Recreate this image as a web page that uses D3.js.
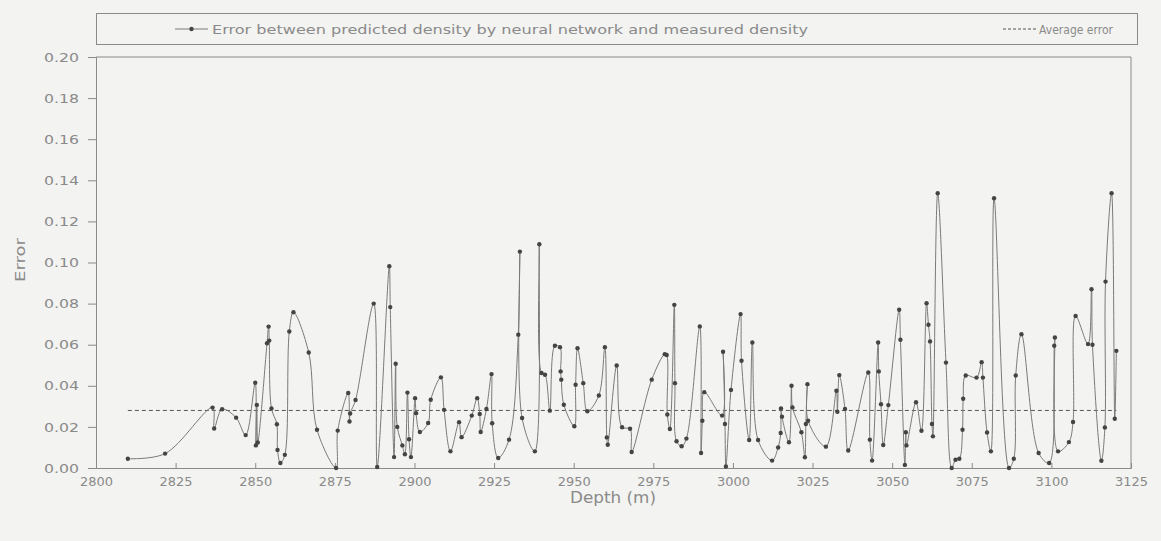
<!DOCTYPE html>
<html>
<head>
<meta charset="utf-8">
<script src="https://cdn.jsdelivr.net/npm/d3@7"></script>
<style>
  html, body { margin: 0; padding: 0; background: #f3f3f1; }
  svg { display: block; }
  text { font-family: "DejaVu Sans", "Liberation Sans", sans-serif; fill: #8a8a8a; }
</style>
</head>
<body>
<div id="main-vis"></div>
<script>
// depth (m) of each sample
const depth = [
  2810.0, 2821.7, 2836.6, 2837.1, 2839.6, 2844.0, 2847.0, 2850.0, 2850.2, 2850.5,
  2850.8, 2853.7, 2854.2, 2854.4, 2855.1, 2856.8, 2857.0, 2857.9, 2859.3, 2860.7,
  2862.0, 2866.8, 2869.4, 2875.4, 2875.9, 2879.2, 2879.6, 2879.8, 2881.5, 2887.2,
  2888.3, 2892.1, 2892.4, 2893.6, 2894.1, 2894.6, 2896.2, 2897.0, 2897.8, 2898.3,
  2898.9, 2900.2, 2900.5, 2901.7, 2904.3, 2905.1, 2908.3, 2909.3, 2911.3, 2914.0,
  2914.8, 2918.0, 2919.7, 2920.5, 2920.8, 2922.6, 2924.2, 2924.4, 2926.3, 2929.7,
  2932.6, 2933.1, 2933.8, 2937.8, 2939.2, 2939.9, 2941.0, 2942.5, 2944.1, 2945.7,
  2945.9, 2946.1, 2946.9, 2950.2, 2950.6, 2951.2, 2953.0, 2954.3, 2957.9, 2959.8,
  2960.4, 2960.7, 2963.5, 2965.2, 2967.7, 2968.2, 2974.5, 2978.6, 2979.2, 2979.4,
  2980.2, 2981.6, 2981.8, 2982.3, 2983.9, 2985.4, 2989.6, 2990.0, 2990.4, 2991.0,
  2996.6, 2996.9, 2997.5, 2997.8, 2999.4, 3002.4, 3002.7, 3005.1, 3006.1, 3007.9,
  3012.3, 3014.2, 3015.0, 3015.1, 3015.4, 3017.6, 3018.4, 3018.7, 3021.5, 3022.6,
  3022.9, 3023.4, 3023.6, 3029.2, 3032.5, 3032.8, 3033.4, 3035.2, 3036.2, 3042.5,
  3043.0, 3043.7, 3045.6, 3045.8, 3046.5, 3047.2, 3048.8, 3052.2, 3052.6, 3054.0,
  3054.3, 3054.5, 3057.5, 3059.2, 3060.8, 3061.4, 3061.9, 3062.5, 3062.8, 3064.3,
  3066.9, 3068.7, 3069.9, 3071.1, 3072.1, 3072.3, 3073.1, 3076.5, 3078.1, 3078.5,
  3079.8, 3081.0, 3082.0, 3086.7, 3088.2, 3088.8, 3090.6, 3096.0, 3099.3, 3100.9,
  3101.1, 3102.1, 3105.5, 3106.8, 3107.6, 3111.5, 3112.6, 3112.9, 3115.7, 3116.8,
  3117.0, 3118.9, 3119.9, 3120.4
]

// error between predicted and measured density
const errorVals = [
  0.0045, 0.0070, 0.0294, 0.0192, 0.0286, 0.0245, 0.0160, 0.0415, 0.0110, 0.0307,
  0.0124, 0.0607, 0.0688, 0.0620, 0.0290, 0.0213, 0.0088, 0.0024, 0.0064, 0.0664,
  0.0758, 0.0562, 0.0186, 0.0000, 0.0182, 0.0365, 0.0226, 0.0265, 0.0331, 0.0800,
  0.0005, 0.0982, 0.0783, 0.0053, 0.0507, 0.0200, 0.0110, 0.0067, 0.0367, 0.0140,
  0.0053, 0.0340, 0.0267, 0.0175, 0.0219, 0.0332, 0.0441, 0.0283, 0.0081, 0.0223,
  0.0150, 0.0255, 0.0340, 0.0263, 0.0175, 0.0287, 0.0457, 0.0218, 0.0049, 0.0138,
  0.0649, 0.1053, 0.0243, 0.0081, 0.1089, 0.0462, 0.0454, 0.0279, 0.0595, 0.0588,
  0.0470, 0.0430, 0.0308, 0.0203, 0.0405, 0.0583, 0.0413, 0.0276, 0.0353, 0.0588,
  0.0149, 0.0113, 0.0499, 0.0198, 0.0191, 0.0078, 0.0430, 0.0554, 0.0550, 0.0260,
  0.0190, 0.0794, 0.0413, 0.0130, 0.0106, 0.0143, 0.0689, 0.0073, 0.0230, 0.0369,
  0.0255, 0.0566, 0.0214, 0.0007, 0.0380, 0.0749, 0.0522, 0.0136, 0.0611, 0.0136,
  0.0036, 0.0100, 0.0170, 0.0290, 0.0250, 0.0125, 0.0400, 0.0295, 0.0174, 0.0052,
  0.0214, 0.0408, 0.0230, 0.0104, 0.0376, 0.0274, 0.0452, 0.0287, 0.0085, 0.0465,
  0.0138, 0.0036, 0.0611, 0.0470, 0.0310, 0.0112, 0.0306, 0.0770, 0.0624, 0.0015,
  0.0174, 0.0110, 0.0320, 0.0181, 0.0802, 0.0697, 0.0616, 0.0214, 0.0154, 0.1337,
  0.0513, 0.0000, 0.0040, 0.0045, 0.0186, 0.0337, 0.0450, 0.0440, 0.0515, 0.0440,
  0.0173, 0.0081, 0.1313, 0.0000, 0.0045, 0.0450, 0.0651, 0.0073, 0.0024, 0.0595,
  0.0635, 0.0081, 0.0126, 0.0224, 0.0740, 0.0603, 0.0870, 0.0600, 0.0035, 0.0197,
  0.0907, 0.1337, 0.0240, 0.0570
]

const avgError = 0.028

const xTickValues = [2800, 2825, 2850, 2875, 2900, 2925, 2950, 2975, 3000, 3025, 3050, 3075, 3100, 3125]
const yTickValues = [0, 0.02, 0.04, 0.06, 0.08, 0.10, 0.12, 0.14, 0.16, 0.18, 0.20]

const seriesName = 'Error between predicted density by neural network and measured density'
const avgName = 'Average error'

const points = depth.map((d, i) => ({ d: d, e: errorVals[i] }))

const W = 1161, H = 541
const plotLeft = 96, plotRight = 1131, plotTop = 57, plotBottom = 468

const svg = d3.create('svg')
    .attr('width', W)
    .attr('height', H)

const x = d3.scaleLinear().domain([2800, 3125]).range([plotLeft, plotRight])
const y = d3.scaleLinear().domain([0, 0.20]).range([plotBottom, plotTop])

const axisColor = '#8a8a8a'

// frame (top and right)
svg.append('path')
    .attr('d', `M${plotLeft},${plotTop}H${plotRight}V${plotBottom}`)
    .attr('fill', 'none')
    .attr('stroke', axisColor)
    .attr('stroke-width', 1)

// y axis
const yAxis = svg.append('g')
    .attr('transform', `translate(${plotLeft},0)`)
    .call(d3.axisLeft(y).tickValues(yTickValues).tickSize(8).tickPadding(9)
        .tickFormat(d3.format('.2f')))
yAxis.select('.domain').attr('stroke', axisColor)
yAxis.selectAll('.tick line').attr('stroke', axisColor)
yAxis.selectAll('.tick text')
    .attr('font-size', 13)
    .attr('textLength', 35)
    .attr('lengthAdjust', 'spacingAndGlyphs')
    .attr('fill', axisColor)

// x axis
const xAxis = svg.append('g')
    .attr('transform', `translate(0,${plotBottom})`)
    .call(d3.axisBottom(x).tickValues(xTickValues).tickSize(-5).tickPadding(6)
        .tickFormat(d3.format('d')))
xAxis.select('.domain').attr('stroke', axisColor)
xAxis.selectAll('.tick line').attr('stroke', axisColor)
xAxis.selectAll('.tick text')
    .attr('font-size', 13)
    .attr('textLength', 33)
    .attr('lengthAdjust', 'spacingAndGlyphs')
    .attr('fill', axisColor)
    .attr('dy', '0.95em')

// axis titles
svg.append('text')
    .attr('x', 613).attr('y', 503)
    .attr('text-anchor', 'middle')
    .attr('font-size', 15)
    .attr('textLength', 86)
    .attr('lengthAdjust', 'spacingAndGlyphs')
    .text('Depth (m)')

svg.append('text')
    .attr('transform', 'translate(25,260) rotate(-90)')
    .attr('text-anchor', 'middle')
    .attr('font-size', 14)
    .attr('textLength', 44)
    .attr('lengthAdjust', 'spacingAndGlyphs')
    .text('Error')

// average error line
svg.append('line')
    .attr('x1', x(depth[0])).attr('x2', x(depth[depth.length - 1]))
    .attr('y1', y(avgError)).attr('y2', y(avgError))
    .attr('stroke', '#555')
    .attr('stroke-width', 1)
    .attr('stroke-dasharray', '4,3')

// smoothed error line
const line = d3.line()
    .x(p => x(p.d))
    .y(p => y(p.e))
    .curve(d3.curveCatmullRom.alpha(0.5))

svg.append('path')
    .datum(points)
    .attr('d', line)
    .attr('fill', 'none')
    .attr('stroke', '#7a7a7a')
    .attr('stroke-width', 1)

svg.append('g')
    .selectAll('circle')
    .data(points)
    .join('circle')
        .attr('cx', p => x(p.d))
        .attr('cy', p => y(p.e))
        .attr('r', 2.2)
        .attr('fill', '#444')

// legend
const lg = svg.append('g')
lg.append('rect')
    .attr('x', 96.5).attr('y', 13.5)
    .attr('width', 1041).attr('height', 31)
    .attr('fill', 'none')
    .attr('stroke', axisColor)

lg.append('line')
    .attr('x1', 175).attr('x2', 208).attr('y1', 29).attr('y2', 29)
    .attr('stroke', '#7a7a7a')
lg.append('circle')
    .attr('cx', 191.5).attr('cy', 29).attr('r', 2.2).attr('fill', '#444')
lg.append('text')
    .attr('x', 212).attr('y', 33.5)
    .attr('font-size', 13)
    .attr('textLength', 596)
    .attr('lengthAdjust', 'spacingAndGlyphs')
    .text(seriesName)

lg.append('line')
    .attr('x1', 1003).attr('x2', 1036).attr('y1', 29).attr('y2', 29)
    .attr('stroke', '#555')
    .attr('stroke-dasharray', '3,2')
lg.append('text')
    .attr('x', 1039).attr('y', 33.5)
    .attr('font-size', 13)
    .attr('textLength', 74)
    .attr('lengthAdjust', 'spacingAndGlyphs')
    .text(avgName)

document.getElementById('main-vis').appendChild(svg.node())
</script>
</body>
</html>
